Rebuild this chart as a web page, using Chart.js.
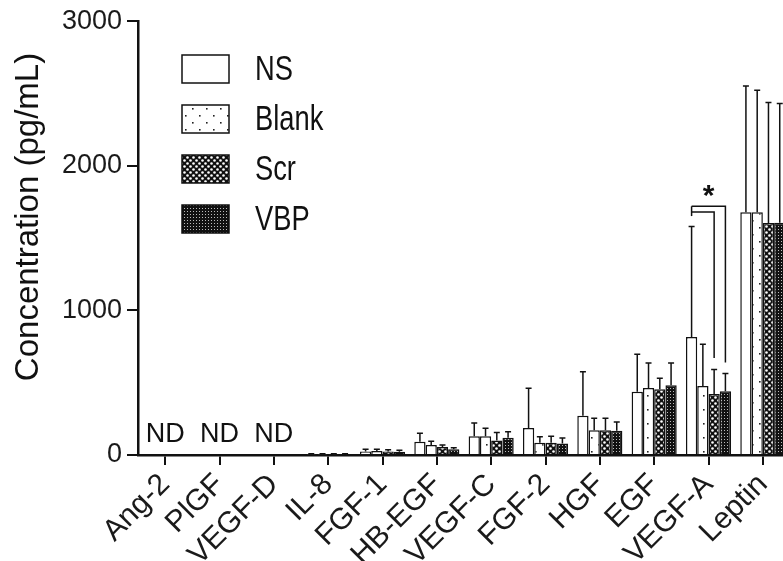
<!DOCTYPE html>
<html>
<head>
<meta charset="utf-8">
<script src="https://cdn.jsdelivr.net/npm/chart.js@4"></script>
<style>
  html, body { margin: 0; padding: 0; background: #fff; overflow: hidden; }
  #wrap { width: 800px; height: 561px; }
</style>
</head>
<body>
<div id="wrap"><canvas id="chart_canvas" width="800" height="561"></canvas></div>
<script>
const categories = ['Ang-2', 'PlGF', 'VEGF-D', 'IL-8', 'FGF-1', 'HB-EGF', 'VEGF-C', 'FGF-2', 'HGF', 'EGF', 'VEGF-A', 'Leptin'];
const seriesNames = ['NS', 'Blank', 'Scr', 'VBP'];

// means (pg/mL), null = not detected
const nsValues    = [null, null, null, 5, 25, 92, 130, 186, 271, 437, 816, 1678];
const blankValues = [null, null, null, 5, 28, 70, 130, 85, 172, 464, 478, 1678];
const scrValues   = [null, null, null, 5, 25, 55, 100, 85, 172, 455, 421, 1605];
const vbpValues   = [null, null, null, 5, 22, 40, 120, 80, 168, 483, 441, 1607];

// upper error (SD)
const nsErr    = [0, 0, 0, 3, 15, 58, 92, 276, 304, 260, 765, 874];
const blankErr = [0, 0, 0, 3, 12, 25, 55, 41, 83, 173, 288, 844];
const scrErr   = [0, 0, 0, 3, 12, 15, 55, 45, 83, 76, 170, 832];
const vbpErr   = [0, 0, 0, 3, 10, 10, 40, 37, 60, 154, 122, 823];

const ndCategories = ['Ang-2', 'PlGF', 'VEGF-D'];
const yTicks = [0, 1000, 2000, 3000];

// significance: VEGF-A, NS vs Scr / VBP
const sigCategory = 'VEGF-A';
const sigBrackets = [
  {from: 0, to: 3, level: 1720, end: 640},
  {from: 0, to: 2, level: 1680, end: 670}
];
const sigStarLevel = 1830;

function makePattern(size, draw) {
  var c = document.createElement('canvas');
  c.width = size; c.height = size;
  var g = c.getContext('2d');
  draw(g, size);
  return document.getElementById('chart_canvas').getContext('2d').createPattern(c, 'repeat');
}

const fillNS = '#ffffff';
const fillBlank = makePattern(14, function(g, s) {
  g.fillStyle = '#fff'; g.fillRect(0, 0, s, s);
  g.fillStyle = '#222';
  g.fillRect(3, 3, 1.6, 1.6);
  g.fillRect(10, 10, 1.6, 1.6);
});
const fillScr = makePattern(6, function(g, s) {
  g.fillStyle = '#111'; g.fillRect(0, 0, s, s);
  g.fillStyle = '#fff';
  g.beginPath(); g.arc(1.5, 1.5, 1.3, 0, Math.PI * 2); g.fill();
  g.beginPath(); g.arc(4.5, 4.5, 1.3, 0, Math.PI * 2); g.fill();
});
const fillVBP = makePattern(3, function(g, s) {
  g.fillStyle = '#111'; g.fillRect(0, 0, s, s);
  g.fillStyle = '#bbb'; g.fillRect(1, 1, 1, 1);
});
const fills = [fillNS, fillBlank, fillScr, fillVBP];
const errs = [nsErr, blankErr, scrErr, vbpErr];

const extras = {
  id: 'extras',
  afterDatasetsDraw(chart) {
    const c = chart.ctx, y = chart.scales.y, x = chart.scales.x;
    c.save();
    c.strokeStyle = '#111';
    c.lineWidth = 1.5;
    // error bars
    chart.data.datasets.forEach(function(ds, d) {
      const meta = chart.getDatasetMeta(d);
      meta.data.forEach(function(bar, i) {
        const v = ds.data[i];
        if (v == null || !errs[d][i]) return;
        const top = y.getPixelForValue(v + errs[d][i]);
        c.beginPath();
        c.moveTo(bar.x, bar.y); c.lineTo(bar.x, top);
        c.moveTo(bar.x - 3, top); c.lineTo(bar.x + 3, top);
        c.stroke();
      });
    });
    // significance brackets
    const ci = categories.indexOf(sigCategory);
    const bx = function(k) { return chart.getDatasetMeta(k).data[ci].x; };
    let ys = [];
    sigBrackets.forEach(function(b) {
      const ly = y.getPixelForValue(b.level);
      ys.push(ly);
      c.beginPath();
      c.moveTo(bx(b.from), ly);
      c.lineTo(bx(b.to), ly);
      c.lineTo(bx(b.to), y.getPixelForValue(b.end));
      c.stroke();
    });
    c.beginPath();
    c.moveTo(bx(0), Math.min.apply(null, ys));
    c.lineTo(bx(0), Math.max.apply(null, ys) + 4);
    c.stroke();
    c.fillStyle = '#111';
    c.font = 'bold 30px "Liberation Sans", Arial, sans-serif';
    c.textAlign = 'center';
    c.textBaseline = 'middle';
    c.fillText('*', (bx(0) + bx(3)) / 2, y.getPixelForValue(sigStarLevel) + 6);

    // ND labels
    c.font = '27px "Liberation Sans", Arial, sans-serif';
    c.textBaseline = 'alphabetic';
    ndCategories.forEach(function(n) {
      c.fillText('ND', x.getPixelForValue(categories.indexOf(n)), y.getPixelForValue(0) - 13);
    });

    // axis title
    c.save();
    c.translate(28, 217);
    c.rotate(-Math.PI / 2);
    c.font = '33px "Liberation Sans", Arial, sans-serif';
    c.fillText('Concentration (pg/mL)', 0, 10);
    c.restore();

    // legend
    seriesNames.forEach(function(name, k) {
      const top = 55 + k * 50;
      c.fillStyle = fills[k];
      c.fillRect(182, top, 47, 28);
      c.strokeRect(182, top, 47, 28);
      c.save();
      c.translate(255, top + 14);
      c.scale(0.78, 1);
      c.fillStyle = '#111';
      c.font = '35px "Liberation Sans", Arial, sans-serif';
      c.textAlign = 'left';
      c.textBaseline = 'middle';
      c.fillText(name, 0, 1);
      c.restore();
    });
    c.restore();
  }
};

const valueSets = [nsValues, blankValues, scrValues, vbpValues];
const data = {
  labels: categories,
  datasets: seriesNames.map(function(name, k) {
    return {
      label: name,
      data: valueSets[k],
      backgroundColor: fills[k],
      borderColor: '#111',
      borderWidth: 1.5,
      categoryPercentage: 0.83,
      barPercentage: 1.0
    };
  })
};

const fontFamily = '"Liberation Sans", Arial, sans-serif';

const config = {
  type: 'bar',
  data: data,
  plugins: [extras],
  options: {
    responsive: false,
    animation: false,
    layout: {padding: {top: 20, right: 10, left: 0, bottom: 0}},
    plugins: {legend: {display: false}, tooltip: {enabled: false}},
    scales: {
      x: {
        grid: {offset: false, drawOnChartArea: false, drawTicks: true, tickLength: 10, color: '#111', lineWidth: 2},
        border: {display: true, color: '#111', width: 2.5},
        ticks: {font: {family: fontFamily, size: 30}, color: '#1a1a1a', minRotation: 45, maxRotation: 45, padding: 2, autoSkip: false},
        afterFit: function(scale) { scale.height = 106; }
      },
      y: {
        min: 0, max: 3000,
        afterBuildTicks: function(scale) { scale.ticks = yTicks.map(function(v) { return {value: v}; }); },
        grid: {drawOnChartArea: false, drawTicks: true, tickLength: 11, color: '#111', lineWidth: 2},
        border: {display: true, color: '#111', width: 2.5},
        ticks: {
          font: {family: fontFamily, size: 27}, color: '#1a1a1a', padding: 5,
          callback: function(value) { return String(value); }
        },
        afterFit: function(scale) { scale.width = 138; }
      }
    }
  }
};

var myChart = new Chart(document.getElementById('chart_canvas'), config);
</script>
</body>
</html>
